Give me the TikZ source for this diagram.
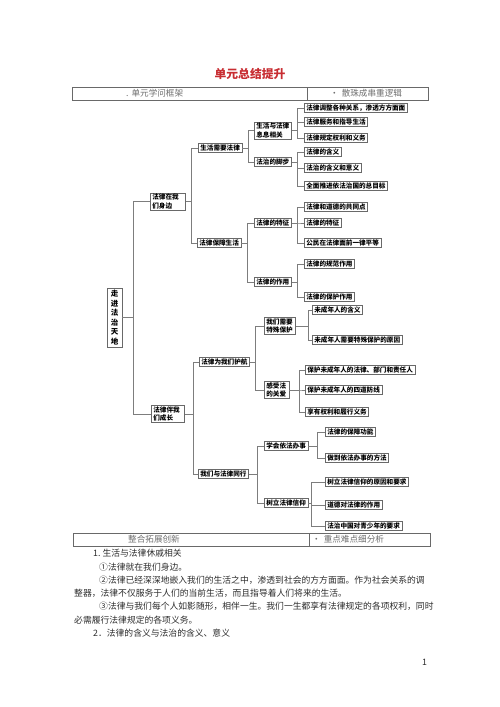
\documentclass[tikz,border=0pt]{standalone}
\usepackage{fontspec}
\setmainfont{Noto Sans CJK SC}
\usetikzlibrary{shadows}
\definecolor{titlered}{RGB}{200,45,50}
\definecolor{boxline}{RGB}{105,105,105}
\definecolor{connline}{RGB}{125,125,125}
\definecolor{headtext}{RGB}{110,110,110}
\definecolor{bodytext}{RGB}{45,45,45}
\tikzset{
  box/.style={draw=boxline, line width=0.6pt, fill=white, inner xsep=2pt, inner ysep=1.1pt,
    font=\fontsize{6.6}{8.2}\selectfont\bfseries, anchor=west,
    drop shadow={shadow xshift=0.6pt,shadow yshift=-0.6pt,fill=black!35,opacity=1}},
  boxtwo/.style={box, align=left},
  rootbox/.style={draw=boxline, line width=0.6pt, fill=white, inner sep=1pt, align=center,
    font=\fontsize{7.5}{9.5}\selectfont\bfseries, minimum width=15pt, minimum height=59pt,
    drop shadow={shadow xshift=0.6pt,shadow yshift=-0.6pt,fill=black!35,opacity=1}},
  conn/.style={draw=connline, line width=0.6pt},
  hdrline/.style={draw=boxline, line width=0.7pt},
  hdrtext/.style={text=headtext, font=\fontsize{8.6}{10}\selectfont, anchor=west, inner sep=0pt},
  bodyline/.style={text=bodytext, font=\fontsize{8.8}{10}\selectfont, anchor=west, inner sep=0pt}
}
\begin{document}
\begin{tikzpicture}[x=1pt,y=-1pt]
\useasboundingbox (0,0) rectangle (500,707);
\fill[white] (0,0) rectangle (500,707);

% title
\node[font=\fontsize{11.8}{12}\selectfont\bfseries, text=titlered] (title) at (250,74) {单元总结提升};

% top header bar
\draw[hdrline] (72,87) rectangle (428,100);
\draw[hdrline] (307,87) -- (307,100);
\node[hdrtext] (htl) at (126,93.5) {.\hspace{3pt}单元学问框架};
\node[hdrtext] (htr) at (330,93.5) {•\hspace{3pt}散珠成串重逻辑};

% tree nodes
\node[rootbox] (R) at (114.5,317.5) {走\\进\\法\\治\\天\\地};

\node[boxtwo, text width=31.4pt] (A) at (150,201.5) {法律在我\\们身边};
\node[boxtwo, text width=29.4pt] (B) at (151,414) {法律伴我\\们成长};

\node[box] (A1) at (198,148) {生活需要法律};
\node[box] (A2) at (197,243) {法律保障生活};
\node[box] (B1) at (199,362) {法律为我们护航};
\node[box] (B2) at (198,474) {我们与法律同行};

\node[boxtwo, text width=33.4pt] (A11) at (254,130.5) {生活与法律\\息息相关};
\node[box] (A12) at (254,162) {法治的脚步};
\node[box] (A21) at (254,223) {法律的特征};
\node[box] (A22) at (254,282) {法律的作用};
\node[boxtwo, text width=27.4pt] (B11) at (264,326) {我们需要\\特殊保护};
\node[boxtwo, text width=20.6pt] (B12) at (264,390) {感受法\\的关爱};
\node[box] (B21) at (264,446) {学会依法办事};
\node[box] (B22) at (264,503) {树立法律信仰};

\node[box] (A111) at (304,108) {法律调整各种关系，渗透方方面面};
\node[box] (A112) at (304,122) {法律服务和指导生活};
\node[box] (A113) at (304,138) {法律规定权利和义务};
\node[box] (A121) at (304,152) {法律的含义};
\node[box] (A122) at (304,168) {法治的含义和意义};
\node[box] (A123) at (304,186) {全面推进依法治国的总目标};
\node[box] (A211) at (304,207) {法律和道德的共同点};
\node[box] (A212) at (304,223) {法律的特征};
\node[box] (A213) at (304,243) {公民在法律面前一律平等};
\node[box] (A221) at (304,264) {法律的规范作用};
\node[box] (A222) at (304,297) {法律的保护作用};
\node[box] (B111) at (312,310) {未成年人的含义};
\node[box] (B112) at (312,340) {未成年人需要特殊保护的原因};
\node[box] (B121) at (305,370) {保护未成年人的法律、部门和责任人};
\node[box] (B122) at (305,390) {保护未成年人的四道防线};
\node[box] (B123) at (305,412) {享有权利和履行义务};
\node[box] (B211) at (325,432) {法律的保障功能};
\node[box] (B212) at (325,458) {做到依法办事的方法};
\node[box] (B221) at (325,482) {树立法律信仰的原因和要求};
\node[box] (B222) at (325,505) {道德对法律的作用};
\node[box] (B223) at (325,526) {法治中国对青少年的要求};

% connectors
\foreach \c in {A,B} \draw[conn] (R.east) -- ++(11,0) |- (\c.west);
\foreach \c in {A1,A2} \draw[conn] (A.east) -- ++(5,0) |- (\c.west);
\foreach \c in {B1,B2} \draw[conn] (B.east) -- ++(8,0) |- (\c.west);
\foreach \c in {A11,A12} \draw[conn] (A1.east) -- ++(6,0) |- (\c.west);
\foreach \c in {A21,A22} \draw[conn] (A2.east) -- ++(6,0) |- (\c.west);
\foreach \c in {B11,B12} \draw[conn] (B1.east) -- ++(5,0) |- (\c.west);
\foreach \c in {B21,B22} \draw[conn] (B2.east) -- ++(8,0) |- (\c.west);
\foreach \c in {A111,A112,A113} \draw[conn] (A11.east) -- ++(5,0) |- (\c.west);
\foreach \c in {A121,A122,A123} \draw[conn] (A12.east) -- ++(6,0) |- (\c.west);
\foreach \c in {A211,A212,A213} \draw[conn] (A21.east) -- ++(6,0) |- (\c.west);
\foreach \c in {A221,A222} \draw[conn] (A22.east) -- ++(6,0) |- (\c.west);
\foreach \c in {B111,B112} \draw[conn] (B11.east) -- ++(12,0) |- (\c.west);
\foreach \c in {B121,B122,B123} \draw[conn] (B12.east) -- ++(10,0) |- (\c.west);
\foreach \c in {B211,B212} \draw[conn] (B21.east) -- ++(9,0) |- (\c.west);
\foreach \c in {B221,B222,B223} \draw[conn] (B22.east) -- ++(3,0) |- (\c.west);

% bottom header bar
\draw[hdrline] (73,533) rectangle (430,546);
\draw[hdrline] (309,533) -- (309,546);
\node[hdrtext] (hbl) at (128,539.5) {整合拓展创新};
\node[hdrtext] (hbr) at (312,539.5) {•\hspace{3pt}重点难点细分析};

% body text
\node[bodyline] (t1) at (93,553.5) {1.\hspace{2pt}生活与法律休戚相关};
\node[bodyline] (t2) at (99,566.8) {①法律就在我们身边。};
\node[bodyline] (t3) at (99,580.1) {\XeTeXlinebreaklocale "zh"\XeTeXlinebreakskip=0pt plus 3pt\makebox[331pt][s]{②法律已经深深地嵌入我们的生活之中，渗透到社会的方方面面。作为社会关系的调}};
\node[bodyline] (t4) at (74,593.4) {整器，法律不仅服务于人们的当前生活，而且指导着人们将来的生活。};
\node[bodyline] (t5) at (99,606.7) {\XeTeXlinebreaklocale "zh"\XeTeXlinebreakskip=0pt plus 3pt\makebox[331pt][s]{③法律与我们每个人如影随形，相伴一生。我们一生都享有法律规定的各项权利，同时}};
\node[bodyline] (t6) at (74,620) {必需履行法律规定的各项义务。};
\node[bodyline] (t7) at (93,633.3) {2．法律的含义与法治的含义、意义};
\node[bodyline] (pg) at (422,662) {1};
\end{tikzpicture}
\end{document}
